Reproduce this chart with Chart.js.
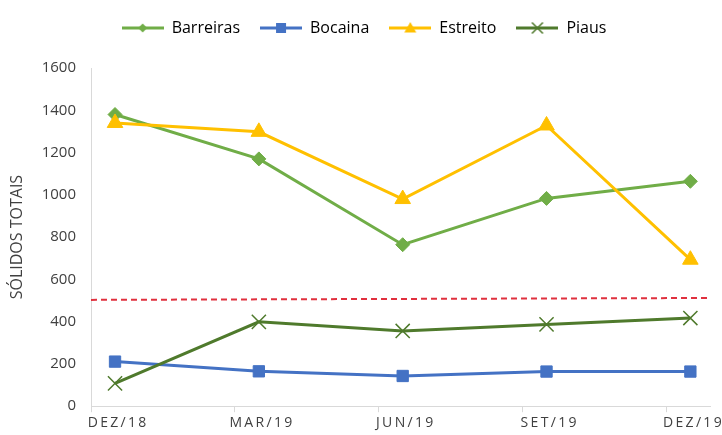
<!DOCTYPE html>
<html>
<head>
<meta charset="utf-8">
<script src="https://cdn.jsdelivr.net/npm/chart.js@4/dist/chart.umd.min.js"></script>
<style>
  html, body { margin: 0; padding: 0; background: #fff; }
  #wrap { width: 722px; height: 435px; }
</style>
</head>
<body>
<div id="wrap"><canvas id="chart"></canvas></div>
<script>
// data
const categories = ['DEZ/18', 'MAR/19', 'JUN/19', 'SET/19', 'DEZ/19'];
const barreiras = [1380, 1170, 764, 983, 1064];
const bocaina = [211, 165, 143, 164, 164];
const estreito = [1340, 1298, 980, 1328, 693];
const piaus = [108, 399, 356, 387, 417];
const limitValues = [503, 512];
const yTicks = [0, 200, 400, 600, 800, 1000, 1200, 1400, 1600];

const xMin = -0.167;
const xMax = 4.14;

const font = "'Open Sans', 'DejaVu Sans', sans-serif";

function toPoints(arr) {
    return arr.map((v, i) => ({ x: i, y: v }));
}

// small canvas used as legend symbol: line + marker
function legendSymbol(color, style, size) {
    const c = document.createElement('canvas');
    c.width = 42;
    c.height = 16;
    const g = c.getContext('2d');
    g.strokeStyle = color;
    g.fillStyle = color;
    g.lineWidth = 3;
    g.beginPath();
    g.moveTo(0, 8);
    g.lineTo(42, 8);
    g.stroke();
    g.beginPath();
    if (style === 'rectRot') {
        g.moveTo(21, 8 - size); g.lineTo(21 + size, 8); g.lineTo(21, 8 + size); g.lineTo(21 - size, 8);
        g.closePath(); g.fill();
    } else if (style === 'rect') {
        g.fillRect(21 - size, 8 - size, size * 2, size * 2);
    } else if (style === 'triangle') {
        g.moveTo(21, 8 - size); g.lineTo(21 + size, 8 + size * 0.75); g.lineTo(21 - size, 8 + size * 0.75);
        g.closePath(); g.fill();
    } else {
        g.lineWidth = 1.5;
        g.moveTo(21 - size, 8 - size); g.lineTo(21 + size, 8 + size);
        g.moveTo(21 + size, 8 - size); g.lineTo(21 - size, 8 + size);
        g.stroke();
    }
    return c;
}

const series = [
    { label: 'Barreiras', data: barreiras, color: '#70AD47', style: 'rectRot', radius: 7, legendSize: 4.5, order: 3 },
    { label: 'Bocaina', data: bocaina, color: '#4472C4', style: 'rect', radius: 8, legendSize: 5, order: 2 },
    { label: 'Estreito', data: estreito, color: '#FFC000', style: 'triangle', radius: 9, legendSize: 6, order: 1 },
    { label: 'Piaus', data: piaus, color: '#4F7A2C', style: 'crossRot', radius: 10, legendSize: 5.5, order: 0 }
];

const datasets = series.map(s => ({
    label: s.label,
    data: toPoints(s.data),
    borderColor: s.color,
    backgroundColor: s.color,
    borderWidth: 3,
    pointStyle: s.style,
    pointRadius: s.radius,
    pointBorderWidth: s.style === 'crossRot' ? 1.5 : 1,
    pointBorderColor: s.color,
    pointBackgroundColor: s.color,
    order: s.order,
    symbol: legendSymbol(s.color, s.style, s.legendSize)
}));

datasets.push({
    label: 'limite',
    data: [{ x: xMin, y: limitValues[0] }, { x: xMax, y: limitValues[1] }],
    borderColor: '#E0303E',
    borderWidth: 2,
    borderDash: [6, 4],
    pointRadius: 0,
    order: 5
});

// extra room under the legend
const legendMargin = {
    id: 'legendMargin',
    beforeInit(chart) {
        const fit = chart.legend.fit;
        chart.legend.fit = function () {
            fit.bind(chart.legend)();
            this.height += 22;
        };
    }
};

new Chart(document.getElementById('chart'), {
    type: 'line',
    data: { datasets: datasets },
    plugins: [legendMargin],
    options: {
        responsive: true,
        maintainAspectRatio: false,
        animation: false,
        layout: { padding: { left: 8, right: 2, top: 0, bottom: 2 } },
        plugins: {
            tooltip: { enabled: false },
            legend: {
                position: 'top',
                labels: {
                    usePointStyle: true,
                    pointStyleWidth: 42,
                    padding: 20,
                    color: '#262626',
                    font: { family: font, size: 16 },
                    filter: item => item.text !== 'limite',
                    generateLabels: chart => chart.data.datasets.map((ds, i) => ({
                        text: ds.label,
                        pointStyle: ds.symbol || 'line',
                        fillStyle: ds.borderColor,
                        strokeStyle: ds.borderColor,
                        lineWidth: 0,
                        hidden: false,
                        datasetIndex: i
                    }))
                }
            }
        },
        scales: {
            x: {
                type: 'linear',
                min: xMin,
                max: xMax,
                afterBuildTicks: scale => {
                    scale.ticks = categories.map((c, i) => ({ value: i + xMin }));
                },
                afterFit: scale => {
                    scale.paddingLeft = 0;
                    scale.paddingRight = 0;
                },
                grid: { drawOnChartArea: false, color: '#D9D9D9', tickLength: 6 },
                border: { color: '#D9D9D9', width: 1 },
                ticks: {
                    color: '#404040',
                    font: { family: font, size: 14 },
                    padding: 2,
                    maxRotation: 0,
                    labelOffset: 26,
                    callback: (v, i) => categories[i].split('').join('\u2009')
                }
            },
            y: {
                min: 0,
                max: 1600,
                afterBuildTicks: scale => {
                    scale.ticks = yTicks.map(v => ({ value: v }));
                },
                afterFit: scale => {
                    scale.width = 83;
                },
                grid: { display: false, drawTicks: false, tickLength: 0 },
                border: { display: true, color: '#D9D9D9', width: 1 },
                ticks: {
                    color: '#404040',
                    font: { family: font, size: 15 },
                    padding: 15,
                    callback: v => String(v)
                },
                title: {
                    display: true,
                    text: 'SÓLIDOS TOTAIS',
                    color: '#404040',
                    font: { family: font, size: 16 },
                    padding: { top: 0, bottom: 14 }
                }
            }
        }
    }
});
</script>
</body>
</html>
